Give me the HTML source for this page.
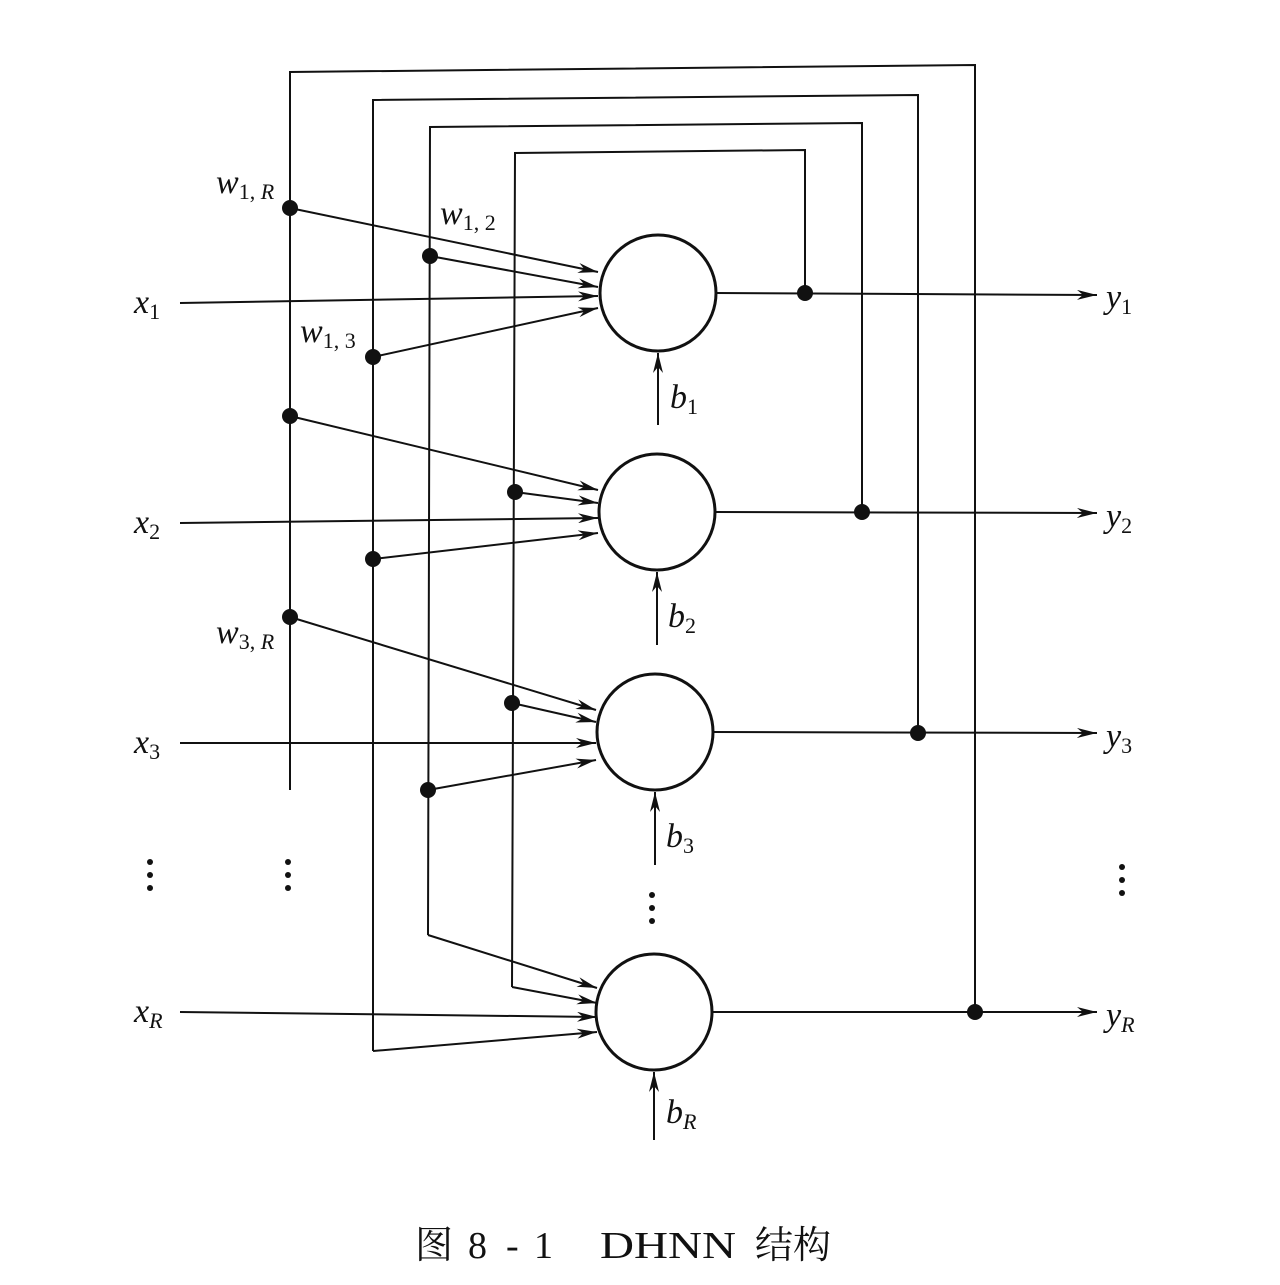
<!DOCTYPE html>
<html><head><meta charset="utf-8"><style>
body{margin:0;background:#fff}
svg text{font-family:"Liberation Serif","Noto Serif CJK SC",serif;fill:#111}
.it{font-style:italic;font-size:34px}
.sub{font-style:normal;font-size:22px}
.ri{font-style:italic;font-size:22px}
</style></head><body>
<svg width="1280" height="1280" viewBox="0 0 1280 1280" xmlns="http://www.w3.org/2000/svg">
<defs>
<marker id="a" viewBox="0 0 20 10" refX="20" refY="5" markerWidth="20" markerHeight="10" markerUnits="userSpaceOnUse" orient="auto">
<path d="M0,0 L20,5 L0,10 L6,5 z" fill="#111"/>
</marker>
</defs>
<g stroke="#111" stroke-width="2" fill="none">
<polyline points="975,1012 975,65 290,72 290,790"/>
<polyline points="918,733 918,95 373,100 373,1051"/>
<polyline points="862,512 862,123 430,127 428,935"/>
<polyline points="805,293 805,150 515,153 512,987"/>
<circle cx="658" cy="293" r="58" stroke-width="3"/>
<circle cx="657" cy="512" r="58" stroke-width="3"/>
<circle cx="655" cy="732" r="58" stroke-width="3"/>
<circle cx="654" cy="1012" r="58" stroke-width="3"/>
<line x1="290" y1="208" x2="598" y2="272" marker-end="url(#a)"/>
<line x1="430" y1="256" x2="598" y2="287" marker-end="url(#a)"/>
<line x1="180" y1="303" x2="598" y2="296" marker-end="url(#a)"/>
<line x1="373" y1="357" x2="598" y2="308" marker-end="url(#a)"/>
<line x1="290" y1="416" x2="598" y2="490" marker-end="url(#a)"/>
<line x1="515" y1="492" x2="598" y2="503" marker-end="url(#a)"/>
<line x1="180" y1="523" x2="598" y2="518" marker-end="url(#a)"/>
<line x1="373" y1="559" x2="598" y2="533" marker-end="url(#a)"/>
<line x1="290" y1="617" x2="596" y2="710" marker-end="url(#a)"/>
<line x1="512" y1="703" x2="596" y2="722" marker-end="url(#a)"/>
<line x1="180" y1="743" x2="596" y2="743" marker-end="url(#a)"/>
<line x1="428" y1="790" x2="596" y2="760" marker-end="url(#a)"/>
<line x1="428" y1="935" x2="597" y2="988" marker-end="url(#a)"/>
<line x1="512" y1="987" x2="597" y2="1003" marker-end="url(#a)"/>
<line x1="180" y1="1012" x2="597" y2="1017" marker-end="url(#a)"/>
<line x1="373" y1="1051" x2="597" y2="1032" marker-end="url(#a)"/>
<line x1="716" y1="293" x2="1097" y2="295" marker-end="url(#a)"/>
<line x1="715" y1="512" x2="1097" y2="513" marker-end="url(#a)"/>
<line x1="713" y1="732" x2="1097" y2="733" marker-end="url(#a)"/>
<line x1="712" y1="1012" x2="1097" y2="1012" marker-end="url(#a)"/>
<line x1="658" y1="425" x2="658" y2="353" marker-end="url(#a)"/>
<line x1="657" y1="645" x2="657" y2="572" marker-end="url(#a)"/>
<line x1="655" y1="865" x2="655" y2="792" marker-end="url(#a)"/>
<line x1="654" y1="1140" x2="654" y2="1072" marker-end="url(#a)"/>
</g>
<g fill="#111">
<circle cx="290" cy="208" r="8"/><circle cx="430" cy="256" r="8"/><circle cx="373" cy="357" r="8"/>
<circle cx="290" cy="416" r="8"/><circle cx="515" cy="492" r="8"/><circle cx="373" cy="559" r="8"/>
<circle cx="290" cy="617" r="8"/><circle cx="512" cy="703" r="8"/><circle cx="428" cy="790" r="8"/>
<circle cx="805" cy="293" r="8"/><circle cx="862" cy="512" r="8"/><circle cx="918" cy="733" r="8"/><circle cx="975" cy="1012" r="8"/>
<circle cx="150" cy="862" r="3"/><circle cx="150" cy="875" r="3"/><circle cx="150" cy="888" r="3"/>
<circle cx="288" cy="862" r="3"/><circle cx="288" cy="875" r="3"/><circle cx="288" cy="888" r="3"/>
<circle cx="652" cy="895" r="3"/><circle cx="652" cy="908" r="3"/><circle cx="652" cy="921" r="3"/>
<circle cx="1122" cy="867" r="3"/><circle cx="1122" cy="880" r="3"/><circle cx="1122" cy="893" r="3"/>
</g>
<text class="it" x="134" y="313">x<tspan class="sub" dy="6">1</tspan></text>
<text class="it" x="134" y="533">x<tspan class="sub" dy="6">2</tspan></text>
<text class="it" x="134" y="753">x<tspan class="sub" dy="6">3</tspan></text>
<text class="it" x="134" y="1022">x<tspan class="ri" dy="6">R</tspan></text>
<text class="it" x="1106" y="308">y<tspan class="sub" dy="6">1</tspan></text>
<text class="it" x="1106" y="527">y<tspan class="sub" dy="6">2</tspan></text>
<text class="it" x="1106" y="747">y<tspan class="sub" dy="6">3</tspan></text>
<text class="it" x="1106" y="1026">y<tspan class="ri" dy="6">R</tspan></text>
<text class="it" x="670" y="408">b<tspan class="sub" dy="6">1</tspan></text>
<text class="it" x="668" y="627">b<tspan class="sub" dy="6">2</tspan></text>
<text class="it" x="666" y="847">b<tspan class="sub" dy="6">3</tspan></text>
<text class="it" x="666" y="1123">b<tspan class="ri" dy="6">R</tspan></text>
<text class="it" x="216" y="193">w<tspan class="sub" dy="6">1, </tspan><tspan class="ri">R</tspan></text>
<text class="it" x="440" y="224">w<tspan class="sub" dy="6">1, 2</tspan></text>
<text class="it" x="300" y="342">w<tspan class="sub" dy="6">1, 3</tspan></text>
<text class="it" x="216" y="643">w<tspan class="sub" dy="6">3, </tspan><tspan class="ri">R</tspan></text>
<text x="415" y="1258" font-size="38">图</text>
<text x="468" y="1258" font-size="38">8</text>
<text x="506" y="1258" font-size="38">-</text>
<text x="534" y="1258" font-size="38">1</text>
<text x="600" y="1258" font-size="38" textLength="136" lengthAdjust="spacingAndGlyphs">DHNN</text>
<text x="755" y="1258" font-size="38">结构</text>
</svg>
</body></html>
